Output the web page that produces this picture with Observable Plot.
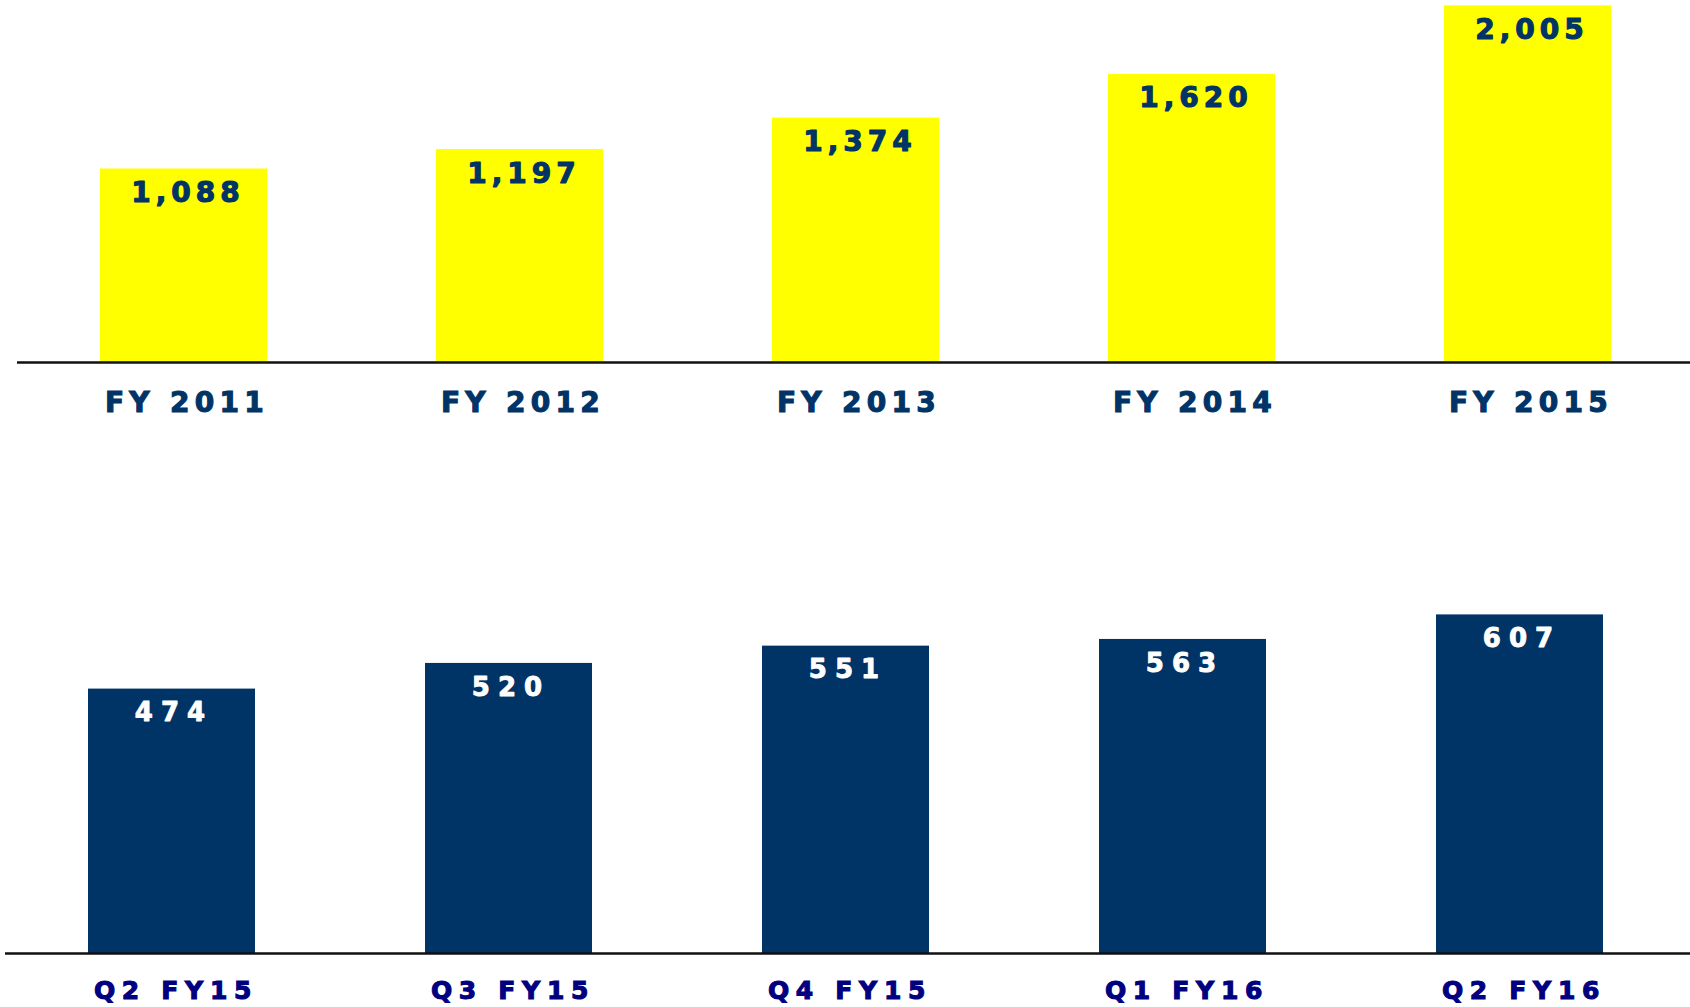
<!DOCTYPE html>
<html>
<head>
<meta charset="utf-8">
<script src="https://cdn.jsdelivr.net/npm/d3@7"></script>
<script src="https://cdn.jsdelivr.net/npm/@observablehq/plot@0.6"></script>
<style>
  html, body { margin: 0; padding: 0; background: #ffffff; overflow: hidden; }
  #chart svg { display: block; }
</style>
</head>
<body>
<div id="chart"></div>
<script>
// Annual values
const fyCategories = ["FY 2011", "FY 2012", "FY 2013", "FY 2014", "FY 2015"];
const fyValues = [1088, 1197, 1374, 1620, 2005];
// Quarterly values
const qCategories = ["Q2 FY15", "Q3 FY15", "Q4 FY15", "Q1 FY16", "Q2 FY16"];
const qValues = [474, 520, 551, 563, 607];

const fyData = fyCategories.map((c, i) => ({category: c, value: fyValues[i]}));
const qData = qCategories.map((c, i) => ({category: c, value: qValues[i]}));

const FONT = "DejaVu Sans, Liberation Sans, sans-serif";
const NAVY = "#003366";
const fmt = d3.format(",");

const topChart = Plot.plot({
  width: 1690,
  height: 470,
  marginTop: 5.4,
  marginBottom: 108,
  marginLeft: 17,
  marginRight: 0,
  style: {background: "#ffffff", overflow: "visible"},
  x: {domain: fyCategories, range: [15, 1695], paddingInner: 0.503, paddingOuter: 0.2515, label: null},
  y: {domain: [0, 2005], axis: null},
  marks: [
    Plot.barY(fyData, {x: "category", y: "value", fill: "#ffff00"}),
    Plot.ruleY([0], {stroke: "#111111", strokeWidth: 2.5}),
    Plot.text(fyData, {x: "category", y: "value", text: d => fmt(d.value), dy: 24, dx: 4,
      lineAnchor: "middle", fill: NAVY, stroke: NAVY, strokeWidth: 1.1,
      fontSize: 28, fontWeight: "bold", fontFamily: FONT}),
    Plot.axisX({tickSize: 0, tickPadding: 30, fontSize: 28, fontWeight: "bold", fontFamily: FONT,
      fill: NAVY, label: null, dx: 3})
  ]
});
d3.select(topChart).selectAll("g[aria-label='text'] text").attr("letter-spacing", "5px");
d3.select(topChart).selectAll("g[aria-label='x-axis tick label'] text")
  .attr("letter-spacing", "5.3px")
  .attr("stroke", NAVY).attr("stroke-width", 1.1);

const bottomChart = Plot.plot({
  width: 1690,
  height: 537,
  marginTop: 144.4,
  marginBottom: 54,
  marginLeft: 5,
  marginRight: 0,
  style: {background: "#ffffff", overflow: "visible"},
  x: {domain: qCategories, range: [3.5, 1688.5], paddingInner: 0.504, paddingOuter: 0.252, label: null},
  y: {domain: [0, 607], axis: null},
  marks: [
    Plot.barY(qData, {x: "category", y: "value", fill: NAVY}),
    Plot.ruleY([0], {stroke: "#111111", strokeWidth: 2.5}),
    Plot.text(qData, {x: "category", y: "value", text: d => fmt(d.value), dy: 24, dx: 2,
      lineAnchor: "middle", fill: "#ffffff", stroke: "#ffffff", strokeWidth: 0.9,
      fontSize: 26, fontWeight: "bold", fontFamily: FONT}),
    Plot.axisX({tickSize: 0, tickPadding: 28, fontSize: 25, fontWeight: "bold", fontFamily: FONT,
      fill: "#000080", label: null, dx: 4})
  ]
});
d3.select(bottomChart).selectAll("g[aria-label='text'] text").attr("letter-spacing", "8px");
d3.select(bottomChart).selectAll("g[aria-label='x-axis tick label'] text")
  .attr("letter-spacing", "6.7px")
  .attr("stroke", "#000080").attr("stroke-width", 1.1);

document.getElementById("chart").append(topChart, bottomChart);
</script>
</body>
</html>
